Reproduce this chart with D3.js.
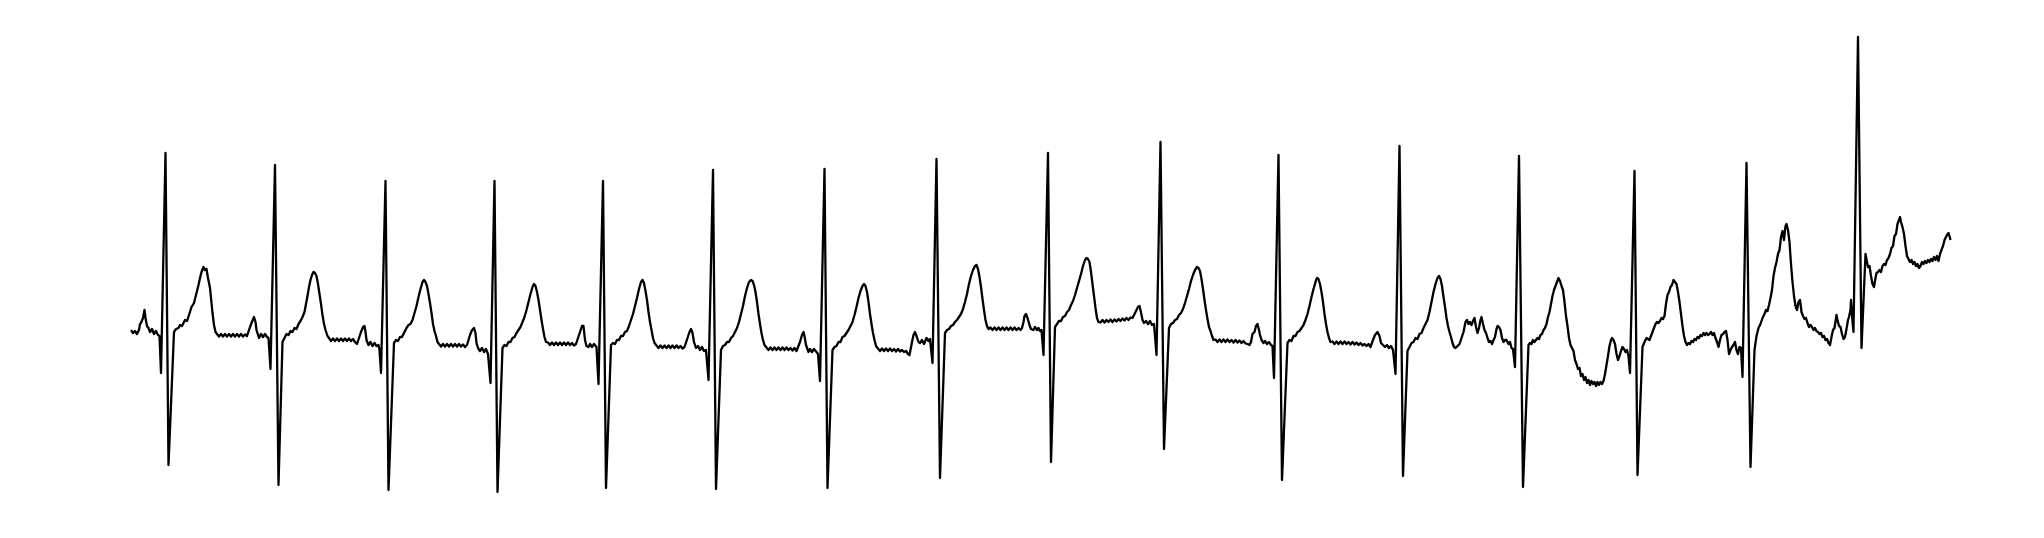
<!DOCTYPE html>
<html>
<head>
<meta charset="utf-8">
<script src="https://cdn.jsdelivr.net/npm/d3@7"></script>
<style>
  html, body { margin: 0; padding: 0; background: #ffffff; }
  svg { display: block; }
</style>
</head>
<body>
<div id="chart"></div>
<script>
// ECG trace: [sample index, amplitude in mV]
const sampleDomain = [0, 3640];
const mvDomain = [-2.0, 3.0];

const ecgTrace = [
[2,0.02],[6,-0.01],[10,0.01],[14,-0.02],[18,0.02],[20,0.08],[22,0.09],[26,0.14],[29,0.22],[31,0.14],[34,0.06],[37,0.04],[40,0.00],[44,0.03],[48,-0.02],[52,0.01],[56,-0.03],[59,-0.04],[62,-0.41],[71,1.79],[77,-1.33],[88,0.00],
[92,0.03],[97,0.04],[100,0.07],[104,0.06],[110,0.12],[114,0.11],[118,0.17],[123,0.25],[128,0.29],[133,0.39],[137,0.47],[140,0.54],[143,0.60],[147,0.65],[150,0.62],[153,0.63],[156,0.54],[160,0.44],[163,0.29],[165,0.19],[168,0.07],[171,0.00],
[174,-0.02],[178,-0.045],[182,-0.02],[186,-0.045],[190,-0.02],[194,-0.045],[198,-0.02],[202,-0.045],[206,-0.02],[210,-0.045],[214,-0.02],[218,-0.045],[222,-0.02],[226,-0.045],[230,-0.025],[234,-0.04],
[238,0.02],[243,0.09],[248,0.15],[251,0.10],[253,0.02],[258,-0.06],[262,-0.02],[266,-0.05],[270,-0.02],[274,-0.05],[277,-0.06],[281,-0.37],[290,1.67],[297,-1.53],[305,-0.10],
[309,-0.06],[313,-0.02],[317,-0.03],[321,0.01],[325,0.00],[329,0.04],[333,0.03],[337,0.08],[341,0.11],[345,0.15],[349,0.20],[352,0.28],[355,0.36],[358,0.45],[361,0.52],[364,0.57],[367,0.60],[370,0.59],[373,0.56],[376,0.48],[379,0.38],[382,0.28],[385,0.17],[388,0.08],[391,0.02],[395,-0.04],
[398,-0.06],[402,-0.09],[406,-0.065],[410,-0.09],[414,-0.065],[418,-0.09],[422,-0.065],[426,-0.09],[430,-0.065],[434,-0.09],[438,-0.065],[442,-0.09],[446,-0.07],[450,-0.10],[454,-0.12],
[458,-0.06],[462,0.00],[466,0.05],[469,0.06],[471,0.00],[473,-0.08],[477,-0.13],[481,-0.10],[485,-0.14],[489,-0.11],[493,-0.14],[497,-0.13],[499,-0.18],[502,-0.41],[511,1.51],[517,-1.58],[528,-0.11],
[532,-0.08],[536,-0.09],[540,-0.05],[544,-0.05],[548,-0.01],[553,0.04],[557,0.07],[561,0.08],[565,0.12],[569,0.19],[573,0.26],[577,0.35],[581,0.43],[585,0.50],[588,0.52],[591,0.50],[594,0.46],[597,0.38],[600,0.29],[603,0.19],[606,0.08],[609,0.01],[612,-0.04],[615,-0.10],
[618,-0.12],[622,-0.145],[626,-0.12],[630,-0.145],[634,-0.12],[638,-0.145],[642,-0.12],[646,-0.145],[650,-0.12],[654,-0.145],[658,-0.12],[662,-0.145],[666,-0.125],[670,-0.15],[674,-0.13],
[680,-0.03],[684,0.02],[688,0.04],[691,-0.01],[693,-0.11],[696,-0.16],[700,-0.19],[704,-0.16],[708,-0.20],[712,-0.17],[716,-0.22],[721,-0.51],[729,1.51],[735,-1.60],[745,-0.16],
[749,-0.13],[753,-0.14],[757,-0.10],[761,-0.10],[765,-0.06],[769,-0.05],[773,-0.01],[777,0.02],[781,0.05],[785,0.10],[789,0.15],[793,0.22],[797,0.30],[801,0.38],[805,0.45],[808,0.48],[811,0.46],[814,0.40],[817,0.32],[820,0.22],[823,0.12],[826,0.03],[829,-0.05],[832,-0.10],
[836,-0.105],[840,-0.13],[844,-0.105],[848,-0.13],[852,-0.105],[856,-0.13],[860,-0.105],[864,-0.13],[868,-0.105],[872,-0.13],[876,-0.105],[880,-0.13],[884,-0.11],[888,-0.135],[892,-0.12],
[896,-0.06],[900,0.00],[904,0.06],[907,0.06],[910,-0.08],[913,-0.14],[917,-0.15],[920,-0.12],[924,-0.15],[928,-0.12],[933,-0.15],[937,-0.52],[946,1.51],[952,-1.56],[962,-0.13],
[966,-0.11],[970,-0.12],[974,-0.08],[978,-0.08],[982,-0.04],[986,-0.04],[990,0.00],[994,0.01],[998,0.06],[1002,0.12],[1006,0.18],[1010,0.26],[1014,0.34],[1018,0.43],[1022,0.50],[1025,0.52],[1028,0.49],[1031,0.41],[1034,0.32],[1037,0.20],[1040,0.10],[1043,0.02],[1046,-0.06],[1049,-0.11],
[1053,-0.135],[1057,-0.16],[1061,-0.135],[1065,-0.16],[1069,-0.135],[1073,-0.16],[1077,-0.135],[1081,-0.16],[1085,-0.135],[1089,-0.16],[1093,-0.135],[1097,-0.16],[1101,-0.14],[1105,-0.165],[1109,-0.15],
[1115,-0.06],[1119,0.00],[1122,0.03],[1125,-0.01],[1128,-0.10],[1132,-0.16],[1136,-0.14],[1140,-0.18],[1144,-0.15],[1148,-0.19],[1152,-0.18],[1157,-0.48],[1166,1.62],[1172,-1.57],[1182,-0.18],
[1186,-0.14],[1190,-0.13],[1194,-0.10],[1198,-0.10],[1202,-0.06],[1206,-0.04],[1210,0.00],[1214,0.04],[1218,0.10],[1222,0.18],[1226,0.26],[1230,0.36],[1234,0.44],[1238,0.50],[1242,0.52],[1245,0.51],[1248,0.47],[1251,0.40],[1254,0.30],[1257,0.18],[1260,0.08],[1263,-0.01],[1266,-0.08],[1269,-0.13],
[1273,-0.155],[1277,-0.18],[1281,-0.155],[1285,-0.18],[1289,-0.155],[1293,-0.18],[1297,-0.155],[1301,-0.18],[1305,-0.155],[1309,-0.18],[1313,-0.155],[1317,-0.18],[1321,-0.16],[1325,-0.185],[1329,-0.16],[1333,-0.19],
[1340,-0.10],[1344,-0.03],[1347,0.00],[1349,-0.04],[1352,-0.13],[1357,-0.20],[1360,-0.17],[1364,-0.20],[1368,-0.17],[1373,-0.20],[1376,-0.22],[1380,-0.49],[1389,1.63],[1395,-1.56],[1405,-0.18],
[1409,-0.15],[1413,-0.14],[1417,-0.10],[1421,-0.10],[1425,-0.05],[1429,-0.04],[1433,-0.01],[1437,0.02],[1441,0.06],[1445,0.10],[1449,0.17],[1453,0.25],[1457,0.34],[1461,0.41],[1465,0.46],[1468,0.48],[1471,0.46],[1474,0.40],[1477,0.30],[1480,0.18],[1483,0.08],[1486,-0.01],[1489,-0.08],[1492,-0.14],
[1496,-0.165],[1500,-0.19],[1504,-0.165],[1508,-0.19],[1512,-0.165],[1516,-0.19],[1520,-0.165],[1524,-0.19],[1528,-0.17],[1532,-0.195],[1536,-0.17],[1540,-0.195],[1544,-0.18],[1548,-0.20],[1552,-0.19],[1556,-0.22],[1559,-0.23],
[1564,-0.10],[1567,-0.03],[1570,0.00],[1573,-0.04],[1577,-0.10],[1580,-0.11],[1584,-0.08],[1588,-0.12],[1593,-0.06],[1597,-0.09],[1600,-0.07],[1605,-0.31],[1613,1.73],[1620,-1.46],[1630,-0.01],
[1634,0.02],[1638,0.03],[1642,0.06],[1646,0.07],[1650,0.10],[1654,0.12],[1658,0.15],[1662,0.18],[1666,0.23],[1670,0.30],[1674,0.38],[1678,0.48],[1682,0.56],[1686,0.62],[1690,0.66],[1693,0.67],[1696,0.63],[1699,0.55],[1702,0.45],[1705,0.33],[1708,0.22],[1711,0.12],[1714,0.06],[1717,0.03],
[1721,0.045],[1725,0.02],[1729,0.045],[1733,0.02],[1737,0.045],[1741,0.02],[1745,0.045],[1749,0.02],[1753,0.045],[1757,0.02],[1761,0.045],[1765,0.02],[1769,0.045],[1773,0.02],[1777,0.04],[1781,0.02],
[1784,0.04],[1787,0.10],[1789,0.16],[1792,0.18],[1795,0.14],[1799,0.07],[1802,0.03],[1807,0.02],[1810,0.05],[1814,0.02],[1817,0.04],[1820,0.01],[1823,0.02],[1827,-0.23],[1836,1.79],[1842,-1.30],[1850,0.05],
[1854,0.08],[1858,0.11],[1862,0.11],[1866,0.15],[1870,0.16],[1874,0.20],[1878,0.22],[1882,0.27],[1886,0.31],[1890,0.37],[1894,0.44],[1898,0.51],[1902,0.58],[1906,0.66],[1910,0.72],[1913,0.74],[1916,0.73],[1919,0.70],[1922,0.60],[1925,0.48],[1928,0.36],[1931,0.24],[1934,0.14],[1937,0.10],
[1941,0.095],[1945,0.12],[1949,0.095],[1953,0.12],[1957,0.10],[1961,0.125],[1965,0.10],[1969,0.125],[1973,0.105],[1977,0.13],[1981,0.11],[1985,0.135],[1989,0.115],[1993,0.14],[1997,0.12],[2001,0.145],[2005,0.14],
[2009,0.18],[2013,0.22],[2016,0.25],[2019,0.26],[2021,0.22],[2025,0.12],[2028,0.09],[2032,0.11],[2036,0.08],[2040,0.11],[2044,0.07],[2048,0.08],[2053,-0.23],[2061,1.90],[2068,-1.17],[2078,0.04],
[2082,0.08],[2086,0.09],[2090,0.12],[2094,0.13],[2098,0.17],[2102,0.19],[2106,0.23],[2110,0.29],[2114,0.36],[2118,0.43],[2122,0.51],[2126,0.57],[2130,0.62],[2134,0.65],[2137,0.64],[2140,0.61],[2143,0.53],[2146,0.43],[2149,0.32],[2152,0.22],[2155,0.13],[2158,0.05],[2161,0.01],[2164,-0.04],[2167,-0.08],
[2171,-0.075],[2175,-0.10],[2179,-0.075],[2183,-0.10],[2187,-0.075],[2191,-0.10],[2195,-0.075],[2199,-0.10],[2203,-0.08],[2207,-0.105],[2211,-0.08],[2215,-0.105],[2219,-0.085],[2223,-0.11],[2227,-0.09],[2231,-0.115],[2235,-0.12],[2239,-0.13],[2242,-0.10],
[2245,-0.02],[2249,0.00],[2252,0.06],[2255,0.08],[2258,0.02],[2260,-0.03],[2263,-0.08],[2267,-0.11],[2270,-0.09],[2274,-0.12],[2278,-0.10],[2282,-0.13],[2285,-0.14],[2288,-0.46],[2297,1.77],[2304,-1.48],[2315,-0.11],
[2319,-0.08],[2323,-0.09],[2327,-0.04],[2331,-0.04],[2335,0.00],[2339,0.01],[2343,0.04],[2347,0.07],[2351,0.12],[2355,0.18],[2359,0.26],[2363,0.35],[2367,0.43],[2371,0.50],[2374,0.54],[2377,0.53],[2380,0.48],[2383,0.40],[2386,0.30],[2389,0.18],[2392,0.08],[2395,0.00],[2398,-0.06],[2401,-0.10],
[2405,-0.095],[2409,-0.12],[2413,-0.095],[2417,-0.12],[2421,-0.095],[2425,-0.12],[2429,-0.095],[2433,-0.12],[2437,-0.10],[2441,-0.125],[2445,-0.10],[2449,-0.125],[2453,-0.105],[2457,-0.13],[2461,-0.11],[2465,-0.135],[2469,-0.12],[2473,-0.14],[2477,-0.12],[2481,-0.15],
[2486,-0.08],[2490,-0.03],[2495,0.00],[2499,-0.04],[2502,-0.11],[2506,-0.13],[2510,-0.15],[2514,-0.13],[2518,-0.16],[2522,-0.14],[2526,-0.18],[2531,-0.42],[2539,1.86],[2546,-1.44],[2555,-0.19],
[2559,-0.15],[2563,-0.11],[2567,-0.10],[2571,-0.06],[2575,-0.07],[2579,-0.02],[2583,-0.01],[2587,0.04],[2591,0.08],[2595,0.12],[2599,0.20],[2603,0.30],[2607,0.40],[2611,0.48],[2615,0.54],[2618,0.56],[2621,0.53],[2624,0.46],[2627,0.35],[2630,0.25],[2633,0.14],[2636,0.06],[2639,0.00],[2642,-0.05],[2645,-0.11],[2648,-0.15],[2651,-0.16],[2655,-0.14],[2659,-0.12],[2663,-0.06],[2667,0.00],[2671,0.10],[2674,0.12],[2677,0.08],[2680,0.10],[2683,0.07],[2686,0.11],[2689,0.14],[2692,0.05],[2695,-0.01],[2698,0.04],[2701,0.12],[2703,0.15],[2706,0.08],[2709,0.02],[2712,-0.01],[2715,-0.06],[2718,-0.10],[2721,-0.09],[2724,-0.12],[2727,-0.08],[2730,-0.05],[2733,0.03],[2735,0.06],[2738,0.05],[2741,0.02],[2744,-0.06],[2747,-0.10],[2750,-0.08],[2753,-0.08],[2757,-0.12],[2760,-0.10],[2763,-0.16],[2766,-0.17],
[2770,-0.35],[2778,1.76],[2786,-1.55],[2797,-0.13],
[2800,-0.11],[2803,-0.12],[2806,-0.08],[2809,-0.10],[2812,-0.08],[2815,-0.06],[2818,-0.07],[2821,-0.03],[2824,-0.02],[2827,0.02],[2830,0.04],[2833,0.08],[2836,0.15],[2839,0.20],[2842,0.28],[2845,0.36],[2848,0.42],[2851,0.46],[2854,0.50],[2857,0.54],[2860,0.51],[2863,0.46],[2866,0.42],[2869,0.30],[2872,0.16],[2875,0.06],[2878,-0.06],[2881,-0.13],[2884,-0.16],[2887,-0.19],[2890,-0.28],[2893,-0.32],[2896,-0.37],[2899,-0.36],[2902,-0.44],[2905,-0.42],[2908,-0.48],[2911,-0.45],[2914,-0.51],[2917,-0.48],[2920,-0.53],[2923,-0.49],[2926,-0.52],[2929,-0.50],[2932,-0.54],[2935,-0.50],[2938,-0.53],[2941,-0.50],[2944,-0.52],[2947,-0.49],[2950,-0.42],[2953,-0.33],[2956,-0.24],[2959,-0.14],[2962,-0.08],[2964,-0.06],[2967,-0.08],[2970,-0.12],[2973,-0.22],[2976,-0.28],[2979,-0.24],[2982,-0.19],[2985,-0.15],[2988,-0.17],[2991,-0.20],[2994,-0.18],[2997,-0.24],
[3000,-0.41],[3009,1.61],[3015,-1.43],[3025,-0.15],
[3029,-0.10],[3033,-0.06],[3036,-0.07],[3039,-0.08],[3042,-0.04],[3045,0.00],[3048,0.04],[3051,0.08],[3054,0.10],[3057,0.09],[3060,0.11],[3063,0.14],[3066,0.13],[3069,0.16],[3072,0.28],[3075,0.37],[3078,0.40],[3081,0.45],[3084,0.47],[3087,0.52],[3090,0.50],[3093,0.48],[3096,0.40],[3099,0.30],[3102,0.18],[3105,0.06],[3108,-0.04],[3111,-0.10],[3114,-0.13],[3117,-0.11],[3120,-0.12],[3123,-0.09],[3126,-0.10],[3129,-0.07],[3132,-0.08],[3135,-0.05],[3138,-0.06],[3141,-0.03],[3144,-0.04],[3147,-0.01],[3150,-0.03],[3153,-0.01],[3156,-0.03],[3159,-0.02],[3162,0.00],[3165,-0.03],[3168,-0.01],[3171,-0.06],[3174,-0.10],[3177,-0.15],[3180,-0.08],[3183,-0.03],[3186,-0.02],[3189,0.00],[3192,0.01],[3195,-0.08],[3198,-0.22],[3201,-0.18],[3204,-0.15],[3207,-0.13],[3210,-0.10],[3213,-0.18],[3216,-0.22],[3219,-0.15],[3222,-0.16],
[3225,-0.45],[3233,1.69],[3241,-1.35],[3249,-0.18],
[3253,-0.04],[3257,0.04],[3261,0.08],[3265,0.14],[3269,0.18],[3272,0.22],[3275,0.21],[3278,0.27],[3281,0.34],[3284,0.42],[3287,0.56],[3290,0.64],[3293,0.70],[3296,0.78],[3299,0.82],[3302,0.95],[3305,1.01],[3308,0.92],[3311,1.06],[3313,1.08],[3316,1.02],[3319,0.90],[3322,0.68],[3325,0.50],[3328,0.36],[3331,0.26],[3334,0.22],[3337,0.30],[3340,0.32],[3343,0.20],[3346,0.16],[3349,0.13],[3352,0.14],[3355,0.09],[3358,0.05],[3361,0.07],[3364,0.05],[3367,0.02],[3370,0.04],[3373,0.01],[3376,0.00],[3379,-0.02],[3382,-0.01],[3385,-0.05],[3388,-0.04],[3391,-0.08],[3394,-0.07],[3397,-0.11],[3400,-0.13],[3403,-0.05],[3406,0.02],[3409,0.04],[3413,0.17],[3415,0.12],[3418,0.06],[3421,0.05],[3424,-0.02],[3427,-0.07],[3430,-0.05],[3433,0.03],[3436,0.12],[3438,0.15],[3441,0.22],[3442,0.32],[3445,0.10],[3447,0.00],
[3456,2.95],[3463,-0.16],[3471,0.78],
[3474,0.70],[3476,0.65],[3479,0.66],[3482,0.56],[3485,0.48],[3488,0.45],[3491,0.54],[3493,0.59],[3496,0.60],[3499,0.62],[3502,0.60],[3505,0.66],[3508,0.68],[3511,0.67],[3514,0.72],[3517,0.74],[3520,0.78],[3523,0.84],[3526,0.86],[3529,0.96],[3532,0.98],[3535,1.08],[3538,1.12],[3540,1.15],[3542,1.10],[3545,1.05],[3548,0.98],[3551,0.86],[3554,0.76],[3557,0.73],[3560,0.70],[3563,0.72],[3566,0.68],[3569,0.70],[3572,0.66],[3575,0.68],[3578,0.64],[3581,0.66],[3584,0.70],[3587,0.68],[3590,0.71],[3593,0.69],[3596,0.72],[3599,0.70],[3602,0.73],[3605,0.71],[3608,0.75],[3611,0.72],[3614,0.76],[3617,0.71],[3620,0.78],[3623,0.82],[3626,0.86],[3629,0.92],[3632,0.95],[3635,0.98],[3637,0.99],[3640,0.94],[3641,0.92]
];

const W = 2044, H = 538;
const svg = d3.select("#chart").append("svg")
  .attr("width", W).attr("height", H)
  .attr("viewBox", `0 0 ${W} ${H}`);

svg.append("rect").attr("width", W).attr("height", H).attr("fill", "#ffffff");

const x = d3.scaleLinear().domain(sampleDomain).range([130, 1950]);
const y = d3.scaleLinear().domain(mvDomain).range([532, 32]);

const line = d3.line()
  .x(d => x(d[0]))
  .y(d => y(d[1]));

svg.append("path")
  .datum(ecgTrace)
  .attr("fill", "none")
  .attr("stroke", "#000000")
  .attr("stroke-width", 2.3)
  .attr("stroke-linejoin", "round")
  .attr("stroke-linecap", "butt")
  .attr("d", line);
</script>
</body>
</html>
